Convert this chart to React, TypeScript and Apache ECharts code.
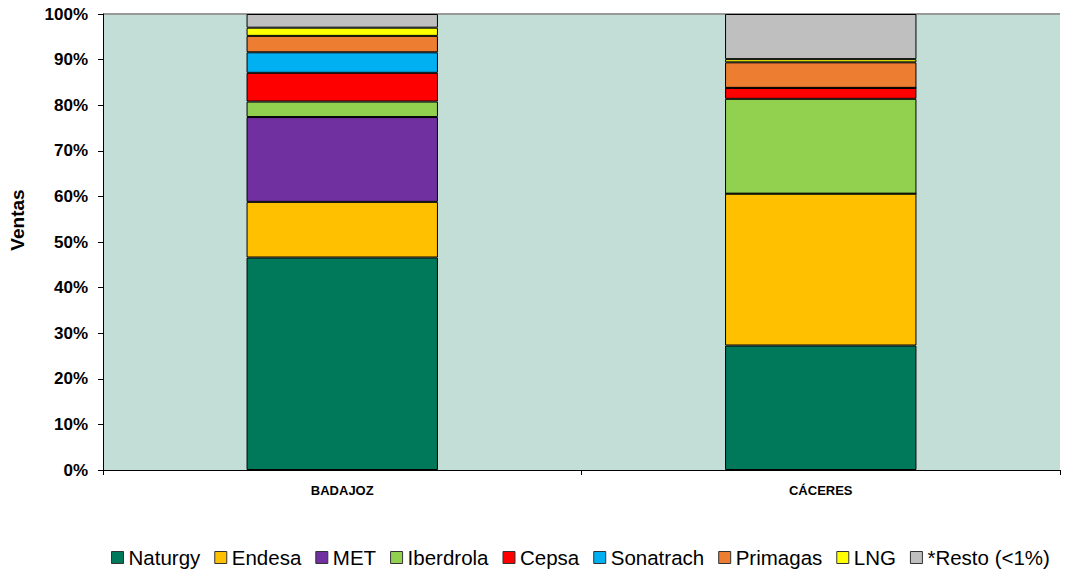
import React, { useEffect, useRef } from "react";
import * as echarts from "echarts";

const categories = ["BADAJOZ", "CÁCERES"];
const seriesNames = ["Naturgy", "Endesa", "MET", "Iberdrola", "Cepsa", "Sonatrach", "Primagas", "LNG", "*Resto (<1%)"];
const naturgy = [46.6, 27.3];
const endesa = [12.2, 33.3];
const met = [18.6, 0];
const iberdrola = [3.4, 20.8];
const cepsa = [6.3, 2.4];
const sonatrach = [4.5, 0];
const primagas = [3.6, 5.6];
const lng = [1.8, 0.7];
const resto = [3.0, 9.9];
const seriesValues = [naturgy, endesa, met, iberdrola, cepsa, sonatrach, primagas, lng, resto];
const colors = ["#00795B", "#FFC000", "#7030A0", "#92D050", "#FF0000", "#00B0F0", "#ED7D31", "#FFFF00", "#BFBFBF"];

export default function App() {
  const ref = useRef<HTMLDivElement>(null);
  useEffect(() => {
    const chart = echarts.init(ref.current!, null, { renderer: "svg" });
    const font = "Arial, 'Liberation Sans', sans-serif";
    chart.setOption({
      animation: false,
      backgroundColor: "#ffffff",
      textStyle: { fontFamily: font },
      grid: {
        left: 103,
        right: 7,
        top: 14,
        bottom: 101,
        show: true,
        backgroundColor: "#C2DED7",
        borderWidth: 0,
      },
      legend: {
        bottom: -2,
        left: 106,
        itemWidth: 12,
        itemHeight: 12,
        itemGap: 14,
        icon: "rect",
        textStyle: { fontSize: 20.5, color: "#000", fontFamily: font },
        data: seriesNames.map((n) => ({ name: n, itemStyle: { borderColor: "#333", borderWidth: 1 } })),
      },
      xAxis: {
        type: "category",
        data: categories,
        axisLine: { lineStyle: { color: "#000", width: 1 } },
        axisTick: { show: true, length: 5, lineStyle: { color: "#000" } },
        axisLabel: { fontSize: 13, fontWeight: "bold", color: "#000", margin: 14, fontFamily: font },
      },
      yAxis: {
        type: "value",
        min: 0,
        max: 100,
        interval: 10,
        name: "Ventas",
        nameLocation: "middle",
        nameRotate: 90,
        nameGap: 76,
        nameTextStyle: { fontSize: 19, fontWeight: "bold", color: "#000", fontFamily: font, padding: [0, 0, 0, 44] },
        axisLine: { show: true, lineStyle: { color: "#000", width: 1 } },
        axisTick: { show: true, length: 5, lineStyle: { color: "#000" } },
        axisLabel: { fontSize: 17, fontWeight: "bold", color: "#000", margin: 15, formatter: "{value}%", fontFamily: font },
        splitLine: {
          show: true,
          lineStyle: {
            color: ["transparent", "transparent", "transparent", "transparent", "transparent", "transparent", "transparent", "transparent", "transparent", "transparent", "#999999"],
            width: 2,
          },
        },
      },
      series: seriesNames.map((name, i) => ({
        name,
        type: "bar",
        stack: "total",
        barWidth: "40%",
        data: seriesValues[i],
        itemStyle: { color: colors[i], borderColor: "#000", borderWidth: 1 },
      })),
    });
    return () => chart.dispose();
  }, []);
  return <div ref={ref} style={{ width: 1067, height: 571, position: "absolute", left: 0, top: 0 }} />;
}
